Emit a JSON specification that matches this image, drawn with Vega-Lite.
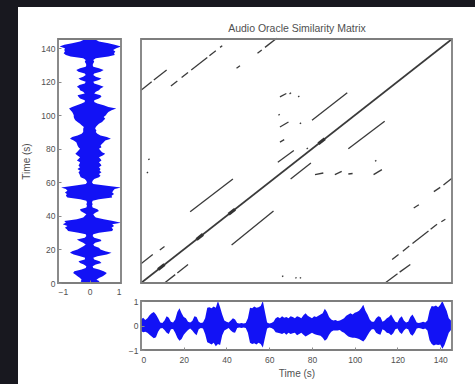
{
  "$schema": "https://vega.github.io/schema/vega-lite/v6.json",
  "width": 475,
  "height": 384,
  "autosize": {"type": "fit", "contains": "padding"},
  "padding": 0,
  "background": "#18181f",
  "config": {
    "view": {"stroke": null},
    "axis": {
      "labelFont": "Liberation Sans", "labelFontSize": 8.5, "labelColor": "#505050",
      "titleFont": "Liberation Sans", "titleFontSize": 10, "titleFontWeight": "normal", "titleColor": "#505050",
      "domain": false, "grid": false, "tickColor": "#8a8a8a", "tickSize": -3, "labelPadding": 6, "format": "d"
    }
  },
  "datasets": {
    "panel": [{"a": 0, "b": 1}],
    "wave": [
      {"t":0,"lo":-0.22,"hi":0.25},{"t":1,"lo":-0.28,"hi":0.32},{"t":2,"lo":-0.25,"hi":0.22},{"t":3,"lo":-0.3,"hi":0.3},
      {"t":4,"lo":-0.38,"hi":0.42},{"t":5,"lo":-0.45,"hi":0.5},{"t":6,"lo":-0.52,"hi":0.55},{"t":7,"lo":-0.48,"hi":0.45},
      {"t":8,"lo":-0.25,"hi":0.3},{"t":9,"lo":-0.12,"hi":0.12},{"t":10,"lo":-0.1,"hi":0.1},{"t":11,"lo":-0.18,"hi":0.2},
      {"t":12,"lo":-0.3,"hi":0.38},{"t":13,"lo":-0.35,"hi":0.32},{"t":14,"lo":-0.15,"hi":0.15},{"t":15,"lo":-0.14,"hi":0.12},
      {"t":16,"lo":-0.3,"hi":0.25},{"t":17,"lo":-0.5,"hi":0.55},{"t":18,"lo":-0.62,"hi":0.7},{"t":19,"lo":-0.55,"hi":0.5},
      {"t":20,"lo":-0.38,"hi":0.35},{"t":21,"lo":-0.28,"hi":0.3},{"t":22,"lo":-0.18,"hi":0.15},{"t":23,"lo":-0.12,"hi":0.12},
      {"t":24,"lo":-0.2,"hi":0.18},{"t":25,"lo":-0.32,"hi":0.38},{"t":26,"lo":-0.4,"hi":0.35},{"t":27,"lo":-0.15,"hi":0.15},
      {"t":28,"lo":-0.1,"hi":0.1},{"t":29,"lo":-0.12,"hi":0.12},{"t":30,"lo":-0.35,"hi":0.3},{"t":31,"lo":-0.68,"hi":0.72},
      {"t":32,"lo":-0.72,"hi":0.75},{"t":33,"lo":-0.78,"hi":0.7},{"t":34,"lo":-0.7,"hi":0.78},{"t":35,"lo":-0.85,"hi":0.72},
      {"t":36,"lo":-0.75,"hi":1.0},{"t":37,"lo":-0.8,"hi":0.75},{"t":38,"lo":-0.4,"hi":0.45},{"t":39,"lo":-0.2,"hi":0.2},
      {"t":40,"lo":-0.15,"hi":0.15},{"t":41,"lo":-0.1,"hi":0.12},{"t":42,"lo":-0.2,"hi":0.2},{"t":43,"lo":-0.28,"hi":0.3},
      {"t":44,"lo":-0.3,"hi":0.25},{"t":45,"lo":-0.1,"hi":0.1},{"t":46,"lo":-0.08,"hi":0.08},{"t":47,"lo":-0.1,"hi":0.1},
      {"t":48,"lo":-0.08,"hi":0.08},{"t":49,"lo":-0.1,"hi":0.1},{"t":50,"lo":-0.3,"hi":0.3},{"t":51,"lo":-0.7,"hi":0.72},
      {"t":52,"lo":-0.75,"hi":0.7},{"t":53,"lo":-0.72,"hi":0.78},{"t":54,"lo":-0.78,"hi":0.72},{"t":55,"lo":-0.7,"hi":0.75},
      {"t":56,"lo":-0.75,"hi":0.8},{"t":57,"lo":-0.9,"hi":1.0},{"t":58,"lo":-0.5,"hi":0.55},{"t":59,"lo":-0.12,"hi":0.12},
      {"t":60,"lo":-0.08,"hi":0.08},{"t":61,"lo":-0.1,"hi":0.1},{"t":62,"lo":-0.15,"hi":0.15},{"t":63,"lo":-0.28,"hi":0.3},
      {"t":64,"lo":-0.3,"hi":0.35},{"t":65,"lo":-0.32,"hi":0.3},{"t":66,"lo":-0.35,"hi":0.38},{"t":67,"lo":-0.3,"hi":0.32},
      {"t":68,"lo":-0.38,"hi":0.35},{"t":69,"lo":-0.3,"hi":0.3},{"t":70,"lo":-0.35,"hi":0.38},{"t":71,"lo":-0.32,"hi":0.35},
      {"t":72,"lo":-0.3,"hi":0.3},{"t":73,"lo":-0.4,"hi":0.38},{"t":74,"lo":-0.35,"hi":0.35},{"t":75,"lo":-0.3,"hi":0.3},
      {"t":76,"lo":-0.38,"hi":0.42},{"t":77,"lo":-0.45,"hi":0.5},{"t":78,"lo":-0.4,"hi":0.4},{"t":79,"lo":-0.35,"hi":0.35},
      {"t":80,"lo":-0.3,"hi":0.3},{"t":81,"lo":-0.35,"hi":0.38},{"t":82,"lo":-0.38,"hi":0.35},{"t":83,"lo":-0.4,"hi":0.4},
      {"t":84,"lo":-0.42,"hi":0.45},{"t":85,"lo":-0.5,"hi":0.5},{"t":86,"lo":-0.62,"hi":0.68},{"t":87,"lo":-0.55,"hi":0.55},
      {"t":88,"lo":-0.38,"hi":0.35},{"t":89,"lo":-0.25,"hi":0.25},{"t":90,"lo":-0.2,"hi":0.2},{"t":91,"lo":-0.2,"hi":0.22},
      {"t":92,"lo":-0.2,"hi":0.18},{"t":93,"lo":-0.18,"hi":0.2},{"t":94,"lo":-0.25,"hi":0.25},{"t":95,"lo":-0.3,"hi":0.3},
      {"t":96,"lo":-0.38,"hi":0.4},{"t":97,"lo":-0.45,"hi":0.45},{"t":98,"lo":-0.48,"hi":0.5},{"t":99,"lo":-0.5,"hi":0.45},
      {"t":100,"lo":-0.5,"hi":0.52},{"t":101,"lo":-0.52,"hi":0.55},{"t":102,"lo":-0.55,"hi":0.6},{"t":103,"lo":-0.6,"hi":0.7},
      {"t":104,"lo":-0.65,"hi":0.85},{"t":105,"lo":-0.55,"hi":0.6},{"t":106,"lo":-0.4,"hi":0.45},{"t":107,"lo":-0.25,"hi":0.25},
      {"t":108,"lo":-0.15,"hi":0.15},{"t":109,"lo":-0.15,"hi":0.15},{"t":110,"lo":-0.3,"hi":0.3},{"t":111,"lo":-0.35,"hi":0.38},
      {"t":112,"lo":-0.38,"hi":0.35},{"t":113,"lo":-0.15,"hi":0.15},{"t":114,"lo":-0.2,"hi":0.2},{"t":115,"lo":-0.3,"hi":0.3},
      {"t":116,"lo":-0.32,"hi":0.35},{"t":117,"lo":-0.4,"hi":0.45},{"t":118,"lo":-0.32,"hi":0.3},{"t":119,"lo":-0.15,"hi":0.15},
      {"t":120,"lo":-0.12,"hi":0.12},{"t":121,"lo":-0.28,"hi":0.3},{"t":122,"lo":-0.35,"hi":0.38},{"t":123,"lo":-0.2,"hi":0.2},
      {"t":124,"lo":-0.12,"hi":0.12},{"t":125,"lo":-0.15,"hi":0.15},{"t":126,"lo":-0.35,"hi":0.35},{"t":127,"lo":-0.42,"hi":0.45},
      {"t":128,"lo":-0.3,"hi":0.3},{"t":129,"lo":-0.12,"hi":0.12},{"t":130,"lo":-0.1,"hi":0.1},{"t":131,"lo":-0.12,"hi":0.12},
      {"t":132,"lo":-0.15,"hi":0.15},{"t":133,"lo":-0.12,"hi":0.12},{"t":134,"lo":-0.2,"hi":0.2},{"t":135,"lo":-0.6,"hi":0.6},
      {"t":136,"lo":-0.75,"hi":0.8},{"t":137,"lo":-0.82,"hi":0.78},{"t":138,"lo":-0.78,"hi":0.82},{"t":139,"lo":-0.8,"hi":0.75},
      {"t":140,"lo":-0.78,"hi":0.85},{"t":141,"lo":-0.95,"hi":1.0},{"t":142,"lo":-0.8,"hi":0.8},{"t":143,"lo":-0.55,"hi":0.6},
      {"t":144,"lo":-0.3,"hi":0.3},{"t":145,"lo":-0.18,"hi":0.2}
    ],
    "segs": [
      {"k":"d","x":0,"y":0,"x2":145.5,"y2":145.5},
      {"k":"n","x":8,"y":8,"x2":11,"y2":11},
      {"k":"n","x":26,"y":26,"x2":29,"y2":29},
      {"k":"n","x":41,"y":41,"x2":44,"y2":44},
      {"k":"n","x":83,"y":83,"x2":86,"y2":86},
      {"k":"s","x":0,"y":115,"x2":5,"y2":120},
      {"k":"s","x":6,"y":121,"x2":12,"y2":127},
      {"k":"s","x":14,"y":117.5,"x2":17,"y2":120.5},
      {"k":"s","x":19,"y":122.5,"x2":22,"y2":125.5},
      {"k":"s","x":23.5,"y":127,"x2":31,"y2":134.5},
      {"k":"s","x":32,"y":135.5,"x2":35,"y2":138.5},
      {"k":"s","x":37,"y":140.5,"x2":38,"y2":141.5},
      {"k":"s","x":44.7,"y":128,"x2":46.3,"y2":129.6},
      {"k":"s","x":54.5,"y":137,"x2":56.5,"y2":139},
      {"k":"s","x":58,"y":140.5,"x2":63.5,"y2":146},
      {"k":"s","x":80,"y":97,"x2":96.5,"y2":113.5},
      {"k":"s","x":23,"y":42.5,"x2":43,"y2":62},
      {"k":"s","x":0,"y":11.5,"x2":5.5,"y2":17},
      {"k":"s","x":8.8,"y":19.7,"x2":11,"y2":21.8},
      {"k":"s","x":64,"y":72,"x2":71.5,"y2":79},
      {"k":"s","x":64.3,"y":100,"x2":64.9,"y2":100.6},
      {"k":"s","x":65,"y":111,"x2":68,"y2":113},
      {"k":"s","x":69.5,"y":112.8,"x2":70.2,"y2":113.4},
      {"k":"s","x":65,"y":93,"x2":69,"y2":96},
      {"k":"s","x":65,"y":84,"x2":67,"y2":85.5},
      {"k":"s","x":73.5,"y":111,"x2":74.1,"y2":111.5},
      {"k":"s","x":74.3,"y":95,"x2":74.9,"y2":95.5},
      {"k":"s","x":77.5,"y":80,"x2":78.1,"y2":80.5},
      {"k":"s","x":3.4,"y":73.5,"x2":4,"y2":74},
      {"k":"s","x":2.7,"y":65.6,"x2":3.3,"y2":66.1},
      {"k":"s","x":114.2,"y":0,"x2":120,"y2":5.5},
      {"k":"s","x":121,"y":6.5,"x2":126,"y2":11},
      {"k":"s","x":117.5,"y":14,"x2":120.5,"y2":17},
      {"k":"s","x":122.5,"y":19,"x2":125.5,"y2":22},
      {"k":"s","x":127,"y":23.5,"x2":134.5,"y2":31},
      {"k":"s","x":135.5,"y":32,"x2":138.5,"y2":35},
      {"k":"s","x":140.5,"y":36.5,"x2":142.4,"y2":38},
      {"k":"s","x":127.6,"y":44.7,"x2":130,"y2":46.7},
      {"k":"s","x":137,"y":54.5,"x2":140,"y2":57},
      {"k":"s","x":141.5,"y":58.5,"x2":145.5,"y2":62.5},
      {"k":"s","x":97,"y":80,"x2":114,"y2":96.5},
      {"k":"s","x":42.4,"y":22.7,"x2":62,"y2":43},
      {"k":"s","x":11,"y":0,"x2":16,"y2":5},
      {"k":"s","x":17,"y":6,"x2":22,"y2":11},
      {"k":"s","x":70,"y":62,"x2":79.5,"y2":71.5},
      {"k":"s","x":81.4,"y":64.6,"x2":85.3,"y2":65.6},
      {"k":"s","x":90.7,"y":64.6,"x2":93.9,"y2":66.6},
      {"k":"s","x":97,"y":65,"x2":99,"y2":65.3},
      {"k":"s","x":108.8,"y":64.6,"x2":112.7,"y2":67.6},
      {"k":"s","x":109.5,"y":72.6,"x2":110.1,"y2":73.1},
      {"k":"s","x":66,"y":3.8,"x2":66.6,"y2":4.3},
      {"k":"s","x":72.2,"y":2.8,"x2":72.8,"y2":3.3},
      {"k":"s","x":74.3,"y":2.8,"x2":74.9,"y2":3.3}
    ]
  },
  "layer": [
    {
      "data": {"name": "panel"},
      "mark": {"type": "rect", "fill": "#ffffff"},
      "encoding": {
        "x": {"field": "a", "type": "quantitative", "scale": {"domain": [0, 1], "range": [18, 475], "nice": false, "zero": false}, "axis": null},
        "x2": {"field": "b"},
        "y": {"field": "a", "type": "quantitative", "scale": {"domain": [0, 1], "range": [384, 7], "nice": false, "zero": false}, "axis": null},
        "y2": {"field": "b"}
      }
    },
    {
      "layer": [
        {
          "data": {"name": "wave"},
          "mark": {"type": "area", "orient": "horizontal", "color": "#1212f5", "interpolate": "linear"},
          "encoding": {
            "y": {"field": "t", "type": "quantitative",
                  "scale": {"domain": [0, 145.5], "range": [283, 39], "nice": false, "zero": false},
                  "axis": {"zindex": 2, "orient": "left", "offset": -58, "values": [0,20,40,60,80,100,120,140], "title": "Time (s)", "titlePadding": 9}},
            "x": {"field": "lo", "type": "quantitative",
                  "scale": {"domain": [-1, 1], "range": [58, 121], "nice": false, "zero": false},
                  "axis": {"zindex": 2, "orient": "bottom", "offset": -101, "values": [-1, 0, 1], "title": null, "labelPadding": 7}},
            "x2": {"field": "hi"}
          }
        },
        {
          "data": {"name": "panel"},
          "mark": {"type": "rect", "fill": null, "stroke": "#7e7e7e", "strokeWidth": 1.8},
          "encoding": {
            "x": {"datum": -1, "type": "quantitative"},
            "x2": {"datum": 1},
            "y": {"datum": 0, "type": "quantitative"},
            "y2": {"datum": 145.5}
          }
        }
      ]
    },
    {
      "layer": [
        {
          "data": {"name": "segs"},
          "transform": [{"filter": "datum.k === 's'"}],
          "mark": {"type": "rule", "color": "#3a3a3a", "strokeWidth": 1.3},
          "encoding": {
            "x": {"field": "x", "type": "quantitative",
                  "scale": {"domain": [0, 145.5], "range": [141, 452], "nice": false, "zero": false},
                  "axis": {"zindex": 2, "orient": "top", "offset": -39, "labels": false, "ticks": false, "title": "Audio Oracle Similarity Matrix", "titleFontSize": 10.5, "titlePadding": 6}},
            "y": {"field": "y", "type": "quantitative",
                  "scale": {"domain": [0, 145.5], "range": [283, 39], "nice": false, "zero": false},
                  "axis": null},
            "x2": {"field": "x2"},
            "y2": {"field": "y2"}
          }
        },
        {
          "data": {"name": "segs"},
          "transform": [{"filter": "datum.k === 'd'"}],
          "mark": {"type": "rule", "color": "#3a3a3a", "strokeWidth": 1.6},
          "encoding": {
            "x": {"field": "x", "type": "quantitative"},
            "y": {"field": "y", "type": "quantitative"},
            "x2": {"field": "x2"},
            "y2": {"field": "y2"}
          }
        },
        {
          "data": {"name": "segs"},
          "transform": [{"filter": "datum.k === 'n'"}],
          "mark": {"type": "rule", "color": "#333333", "strokeWidth": 3.2},
          "encoding": {
            "x": {"field": "x", "type": "quantitative"},
            "y": {"field": "y", "type": "quantitative"},
            "x2": {"field": "x2"},
            "y2": {"field": "y2"}
          }
        },
        {
          "data": {"name": "panel"},
          "mark": {"type": "rect", "fill": null, "stroke": "#7e7e7e", "strokeWidth": 1.8},
          "encoding": {
            "x": {"datum": 0, "type": "quantitative"},
            "x2": {"datum": 145.5},
            "y": {"datum": 0, "type": "quantitative"},
            "y2": {"datum": 145.5}
          }
        }
      ]
    },
    {
      "layer": [
        {
          "data": {"name": "wave"},
          "mark": {"type": "area", "color": "#1212f5", "interpolate": "linear"},
          "encoding": {
            "x": {"field": "t", "type": "quantitative",
                  "scale": {"domain": [0, 145.5], "range": [141, 452], "nice": false, "zero": false},
                  "axis": {"zindex": 2, "orient": "bottom", "offset": -34, "values": [0,20,40,60,80,100,120,140], "title": "Time (s)", "titlePadding": 5, "labelPadding": 8}},
            "y": {"field": "lo", "type": "quantitative",
                  "scale": {"domain": [-1, 1], "range": [350, 301], "nice": false, "zero": false},
                  "axis": {"zindex": 2, "orient": "left", "offset": -141, "values": [-1, 0, 1], "title": null}},
            "y2": {"field": "hi"}
          }
        },
        {
          "data": {"name": "panel"},
          "mark": {"type": "rect", "fill": null, "stroke": "#7e7e7e", "strokeWidth": 1.8},
          "encoding": {
            "x": {"datum": 0, "type": "quantitative"},
            "x2": {"datum": 145.5},
            "y": {"datum": -1, "type": "quantitative"},
            "y2": {"datum": 1}
          }
        }
      ]
    }
  ],
  "resolve": {
    "scale": {"x": "independent", "y": "independent"},
    "axis": {"x": "independent", "y": "independent"}
  }
}
